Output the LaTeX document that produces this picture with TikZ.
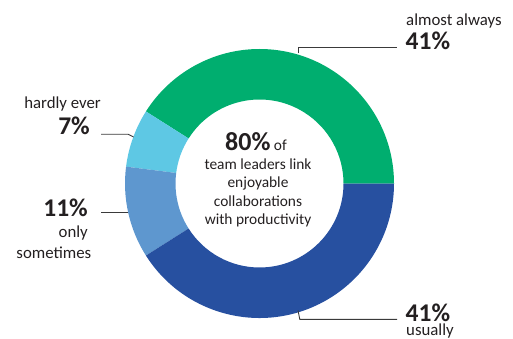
\documentclass[tikz,border=0pt]{standalone}
\usepackage{fontspec}
\setmainfont{Carlito}
\definecolor{cgreen}{HTML}{00AE6F}
\definecolor{ccyan}{HTML}{5EC8E4}
\definecolor{cmid}{HTML}{5E97CF}
\definecolor{cdark}{HTML}{2750A0}
\definecolor{ctext}{HTML}{231F20}
\definecolor{cline}{HTML}{3A3A3A}
\begin{document}
\begin{tikzpicture}[x=1pt,y=-1pt,
  lbl/.style={inner sep=0pt,text=ctext,font=\fontsize{16.8}{20}\selectfont},
  pct/.style={inner sep=0pt,text=ctext,font=\fontsize{25.5}{28}\bfseries\selectfont},
  ctr/.style={inner sep=0pt,text=ctext,font=\fontsize{15.4}{18}\selectfont,anchor=base},
  leader/.style={draw=cline,line width=0.9pt}]
\useasboundingbox (0,0) rectangle (513,339);
\coordinate (O) at (259.5,183.5);
\def\R{134.5}\def\r{84}
\newcommand{\seg}[3]{\fill[#3] ([shift={(#1:\R)}]O) arc[start angle=#1,end angle=#2,radius=\R] -- ([shift={(#2:\r)}]O) arc[start angle=#2,end angle=#1,radius=\r] -- cycle;}
\seg{0}{-147.6}{cgreen}
\seg{-147.6}{-172.8}{ccyan}
\seg{-172.8}{-212.4}{cmid}
\seg{-212.4}{-360}{cdark}
% center text
\node[ctr] (c1) at (256,150.7) {{\fontsize{26}{28}\bfseries\selectfont 80\%} of};
\node[ctr] (c2) at (258,169.3) {team leaders link};
\node[ctr] (c3) at (258,187.8) {enjoyable};
\node[ctr] (c4) at (258,206.2) {collaborations};
\node[ctr] (c5) at (258,224.5) {with productivity};
% almost always
\node[lbl,anchor=base west] (aa) at (406,25.7) {almost always};
\node[pct,anchor=base west] (p1) at (405.5,49.3) {41\%};
\coordinate (a0) at (298.3,53.5);
\coordinate (a1) at (298.3,47.8);
\coordinate (a2) at (397,47.8);
\draw[leader] (a0) -- (a1) -- (a2);
% usually
\node[inner sep=0pt,text=ctext,anchor=base west,align=left,
  font={\fontsize{16.8}{13.8}\selectfont\lineskiplimit=-100pt}] (p4) at (405.5,335.5)
  {{\fontsize{25.5}{28}\bfseries\selectfont 41\%}\\\hspace{0.5pt}usually};
\coordinate (u0) at (298,310.5);
\coordinate (u1) at (299.8,319.3);
\coordinate (u2) at (397,319.3);
\draw[leader] (u0) -- (u1) -- (u2);
% hardly ever
\node[lbl,anchor=base east] (he) at (101,108.3) {hardly ever};
\node[pct,anchor=base east] (p2) at (90,134.3) {7\%};
\coordinate (h0) at (101,134.3);
\coordinate (h1) at (128.3,134.3);
\coordinate (h2) at (133.5,137);
\draw[leader] (h0) -- (h1) -- (h2);
% only sometimes
\node[pct,anchor=base east] (p3) at (88,216) {11\%};
\node[lbl,anchor=base east] (on) at (88,237.3) {only};
\node[lbl,anchor=base east] (so) at (91.5,258.3) {sometimes};
\coordinate (s0) at (101,212.7);
\coordinate (s1) at (127.5,212.7);
\draw[leader] (s0) -- (s1);
\end{tikzpicture}
\end{document}
